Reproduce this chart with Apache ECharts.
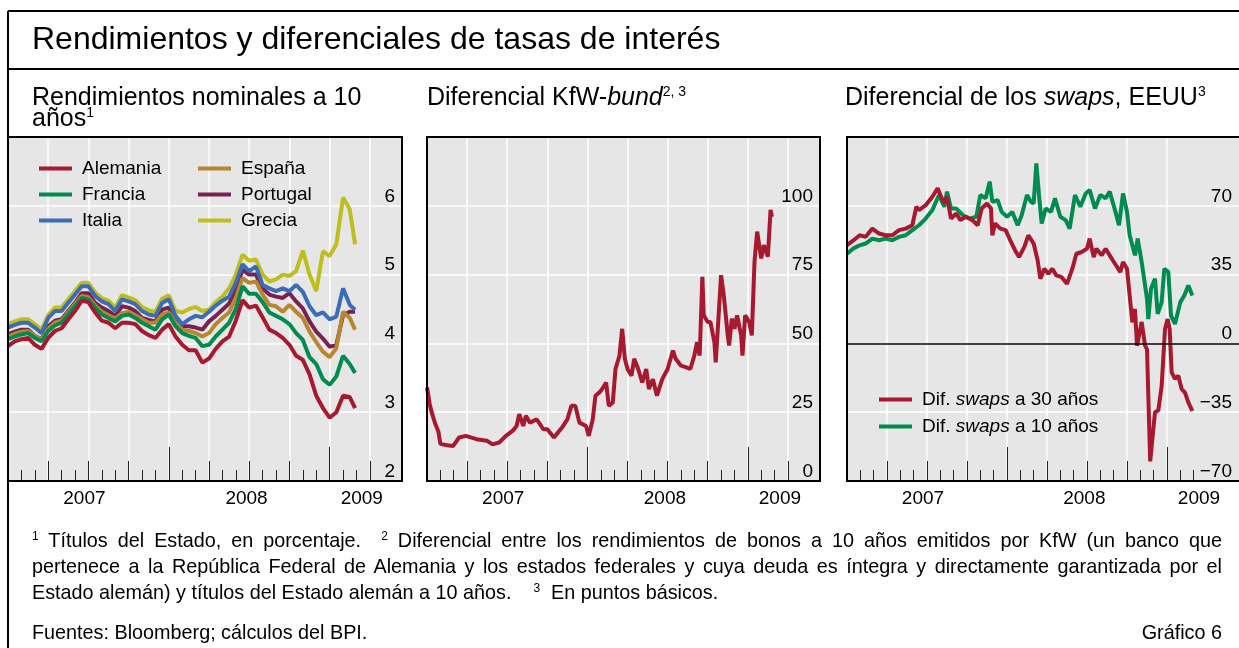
<!DOCTYPE html>
<html>
<head>
<meta charset="utf-8">
<title>Rendimientos y diferenciales de tasas de interés</title>
<script src="https://cdn.jsdelivr.net/npm/echarts@6/dist/echarts.min.js"></script>
<style>
  html, body { margin: 0; padding: 0; background: #fff; }
  #wrap { position: relative; width: 1239px; height: 648px; overflow: hidden; font-family: "Liberation Sans", Arial, sans-serif; color: #000; }
  #chart { position: absolute; left: 0; top: 0; width: 1239px; height: 648px; }
  .notes { position: absolute; left: 32px; width: 1190px; font-size: 19.8px; line-height: 26px; }
  .j { text-align: justify; text-align-last: justify; }
  sup { font-size: 12px; vertical-align: 7px; line-height: 0; }
</style>
</head>
<body>
<div id="wrap">
  <div id="chart"></div>
  <div class="notes" style="top: 527px;">
    <div class="j"><sup>1</sup> Títulos del Estado, en porcentaje.&nbsp;&nbsp;<sup>2</sup> Diferencial entre los rendimientos de bonos a 10 años emitidos por KfW (un banco que</div>
    <div class="j">pertenece a la República Federal de Alemania y los estados federales y cuya deuda es íntegra y directamente garantizada por el</div>
    <div>Estado alemán) y títulos del Estado alemán a 10 años.&nbsp;&nbsp;&nbsp;&nbsp;<sup>3</sup>&nbsp; En puntos básicos.</div>
  </div>
  <div class="notes" style="top: 619px;">Fuentes: Bloomberg; cálculos del BPI.</div>
  <div class="notes" style="top: 619px; text-align: right;">Gráfico 6</div>
</div>

<script>
// meses desde enero de 2007 (0 = 1 ene 2007)
const meses = [0, 0.5, 1, 1.5, 2, 2.5, 3, 3.5, 4, 4.5, 5, 5.5, 6, 6.5, 7, 7.5, 8, 8.5, 9, 9.5,
  10, 10.5, 11, 11.5, 12, 12.5, 13, 13.5, 14, 14.5, 15, 15.5, 16, 16.5, 17, 17.5, 18, 18.5, 19, 19.5,
  20, 20.5, 21, 21.5, 22, 22.5, 23, 23.5, 24, 24.5, 25, 25.5, 25.9];

// rendimientos nominales a 10 años, %
const alemania = [3.96, 4.03, 4.06, 4.08, 3.98, 3.92, 4.08, 4.18, 4.22, 4.35,
  4.47, 4.62, 4.6, 4.45, 4.33, 4.3, 4.22, 4.3, 4.3, 4.28,
  4.18, 4.12, 4.08, 4.2, 4.28, 4.1, 3.98, 3.9, 3.9, 3.72,
  3.78, 3.92, 4.03, 4.1, 4.33, 4.63, 4.52, 4.55, 4.38, 4.2,
  4.15, 4.08, 3.98, 3.82, 3.76, 3.55, 3.24, 3.06, 2.92, 3.0,
  3.24, 3.22, 3.06];
const francia = [4.06, 4.1, 4.13, 4.15, 4.08, 4.03, 4.18, 4.26, 4.3, 4.42,
  4.54, 4.66, 4.64, 4.52, 4.42, 4.37, 4.32, 4.4, 4.42, 4.37,
  4.3, 4.25, 4.2, 4.35, 4.42, 4.25, 4.15, 4.11, 4.08, 3.96,
  3.98, 4.1, 4.2, 4.3, 4.5, 4.83, 4.72, 4.72, 4.6, 4.45,
  4.4, 4.35, 4.28, 4.15, 4.05, 3.8, 3.7, 3.48, 3.4, 3.52,
  3.82, 3.7, 3.57];
const italia = [4.23, 4.27, 4.3, 4.3, 4.23, 4.15, 4.37, 4.47, 4.47, 4.59,
  4.71, 4.83, 4.83, 4.69, 4.61, 4.57, 4.47, 4.64, 4.61, 4.57,
  4.47, 4.42, 4.4, 4.59, 4.64, 4.4, 4.28, 4.35, 4.4, 4.38,
  4.46, 4.55, 4.62, 4.68, 4.88, 5.15, 5.05, 5.12, 4.85, 4.8,
  4.76, 4.8, 4.76, 4.85, 4.75, 4.54, 4.41, 4.45, 4.35, 4.39,
  4.8, 4.56, 4.49];
const espana = [4.1, 4.14, 4.17, 4.18, 4.11, 4.06, 4.21, 4.3, 4.33, 4.45,
  4.57, 4.69, 4.67, 4.55, 4.46, 4.41, 4.36, 4.44, 4.46, 4.41,
  4.35, 4.3, 4.3, 4.42, 4.45, 4.3, 4.2, 4.18, 4.15, 4.1,
  4.15, 4.28, 4.37, 4.45, 4.66, 4.95, 4.88, 4.9, 4.71, 4.56,
  4.54, 4.46, 4.56, 4.46, 4.37, 4.17, 4.02, 3.88, 3.8, 3.93,
  4.46, 4.37, 4.2];
const portugal = [4.13, 4.17, 4.2, 4.2, 4.11, 4.06, 4.25, 4.33, 4.35, 4.47,
  4.59, 4.73, 4.73, 4.59, 4.52, 4.47, 4.4, 4.54, 4.52, 4.47,
  4.37, 4.34, 4.32, 4.49, 4.52, 4.32, 4.25, 4.25, 4.23, 4.2,
  4.32, 4.4, 4.49, 4.58, 4.78, 5.07, 5.0, 5.0, 4.8, 4.71,
  4.68, 4.66, 4.73, 4.61, 4.51, 4.32, 4.17, 4.07, 3.95, 3.98,
  4.41, 4.46, 4.46];
const grecia = [4.28, 4.32, 4.35, 4.35, 4.28, 4.2, 4.41, 4.52, 4.52, 4.64,
  4.76, 4.88, 4.88, 4.74, 4.66, 4.62, 4.52, 4.7, 4.67, 4.63,
  4.53, 4.48, 4.46, 4.65, 4.7, 4.47, 4.45, 4.5, 4.53, 4.47,
  4.49, 4.6, 4.68, 4.8, 5.0, 5.29, 5.2, 5.22, 5.0, 4.9,
  4.93, 5.0, 4.98, 5.05, 5.35, 5.0, 4.76, 5.34, 5.27, 5.44,
  6.12, 5.95, 5.44];

// diferencial KfW-bund, pb: [mes, valor]
const kfwBund = [[0, 34], [0.2, 28], [0.35, 25], [0.6, 21], [0.85, 18], [1, 13.5], [1.5, 13], [1.95, 12.7],
  [2.4, 15.8], [2.9, 16.4], [3.7, 15.2], [4.5, 14.6], [4.9, 13.3], [5.4, 14], [5.9, 16.4], [6.4, 18.2],
  [6.7, 20], [6.9, 24.3], [7.2, 20], [7.4, 23.7], [7.7, 21.2], [8.2, 22.4], [8.4, 21], [8.7, 18.8],
  [9.0, 18.8], [9.5, 15.8], [10.1, 19.4], [10.5, 22.4], [10.8, 27.3], [11.1, 27.3], [11.4, 21.2], [11.9, 20],
  [12.1, 16.4], [12.4, 22.4], [12.6, 31], [12.9, 32.2], [13.1, 33.4], [13.4, 35.8], [13.6, 27.3], [13.9, 28.5],
  [14.1, 40.7], [14.4, 45.6], [14.6, 55.3], [14.8, 44.4], [15, 40.7], [15.3, 38.3], [15.5, 44.4], [15.8, 40.7],
  [16.1, 35.8], [16.4, 40.7], [16.6, 33.4], [16.9, 37], [17.2, 31], [17.6, 37], [18, 40.7], [18.4, 47.4],
  [18.6, 44.4], [19, 41.9], [19.4, 41.3], [19.7, 40.7], [20, 45.6], [20.2, 50.5], [20.4, 45.6], [20.6, 74.2],
  [20.7, 60.2], [21, 57.8], [21.2, 57.8], [21.5, 50.5], [21.6, 43.1], [21.8, 59], [22, 74.8], [22.2, 67.5],
  [22.5, 52.9], [22.6, 49.2], [22.8, 59], [23, 55.3], [23.2, 60.2], [23.5, 52.9], [23.6, 45.6], [23.8, 60.2],
  [24.1, 57.8], [24.3, 52.9], [24.5, 79.6], [24.7, 90.6], [25, 80.9], [25.2, 85.7], [25.5, 81.5], [25.7, 98.5],
  [25.8, 96]];

// diferencial de los swaps, EEUU, pb: [mes, valor]
const swaps30 = [[0, 50], [0.5, 52.5], [0.95, 55], [1.4, 54.2], [1.9, 58.4], [2.4, 55.9], [2.9, 55], [3.4, 55],
  [3.9, 57.6], [4.4, 58.4], [4.9, 60.1], [5.2, 69.5], [5.4, 67.8], [5.9, 70.3], [6.4, 74.6], [6.8, 78.9],
  [7.0, 75.5], [7.3, 71.2], [7.5, 74.6], [7.8, 63.5], [8.2, 66.1], [8.5, 62.7], [8.9, 64.4], [9.4, 62.7],
  [9.8, 60.1], [10.1, 68.6], [10.5, 71.2], [10.8, 68.6], [10.9, 55], [11.1, 61], [11.5, 58.4], [11.9, 57.6],
  [12.3, 51.6], [12.6, 47.4], [12.9, 43.9], [13.3, 49.1], [13.6, 55], [14, 50.8], [14.3, 42.2], [14.5, 32.9],
  [14.8, 38], [15.1, 35.4], [15.4, 38], [15.7, 34.6], [16.1, 33.7], [16.5, 30.3], [16.9, 38], [17.2, 45.6],
  [17.6, 46.5], [18, 48.2], [18.2, 53.3], [18.5, 43.9], [18.7, 48.2], [19.1, 44.8], [19.4, 48.2], [19.7, 44.8],
  [20.1, 40.5], [20.5, 36.3], [20.7, 41.4], [21, 38], [21.2, 24.4], [21.4, 10.7], [21.6, 17.5], [21.75, -1.2],
  [22.1, 10.9], [22.35, -1], [22.5, -3], [22.74, -60], [23.1, -35], [23.35, -34], [23.6, -21.6], [23.85, 7.3],
  [24.05, 12.4], [24.2, 7.3], [24.35, -14.7], [24.6, -18], [24.85, -16.5], [25.1, -23.3], [25.35, -25],
  [25.6, -30], [25.9, -34.4]];
const swaps10 = [[0, 45.6], [0.45, 48.2], [0.95, 49.9], [1.4, 50.8], [1.9, 53.3], [2.4, 52.5], [2.9, 53.3],
  [3.4, 52.5], [3.9, 54.2], [4.4, 55], [4.9, 57.6], [5.4, 60.1], [5.9, 63.5], [6.4, 67.8], [6.9, 75.5],
  [7.3, 69.5], [7.5, 77.2], [7.8, 68.6], [8.2, 68.6], [8.7, 65.2], [9.2, 63.5], [9.7, 64.4], [10.0, 75.5],
  [10.4, 73.8], [10.7, 82.3], [10.9, 72], [11.3, 72.9], [11.6, 66.9], [12, 64.4], [12.4, 66.9], [12.8, 60.1],
  [13.1, 65.2], [13.5, 75.5], [13.8, 72], [14, 71.2], [14.2, 91.6], [14.4, 75.5], [14.6, 61], [14.9, 68.6],
  [15.3, 66.9], [15.6, 73.8], [16, 64.4], [16.4, 62.7], [16.7, 58.4], [17.1, 75.5], [17.5, 69.5], [17.9, 76.3],
  [18.2, 78], [18.6, 68.6], [19, 75.5], [19.4, 73.8], [19.7, 77.2], [20.1, 67.8], [20.4, 60.1], [20.7, 76.3],
  [21, 66.9], [21.2, 55], [21.6, 44.8], [21.8, 53.3], [22.1, 41.4], [22.5, 22.7], [22.6, 12.4], [22.8, 27.8],
  [23.1, 32.9], [23.3, 15], [23.6, 21], [23.8, 38], [24.1, 36.3], [24.3, 14.1], [24.6, 9.9], [25, 21],
  [25.3, 24.4], [25.6, 29.5], [25.9, 24.4]];

// ejes: marcas mensuales, trimestrales y etiquetas de año
const tickMeses = [1, 2, 3, 4, 5, 6, 7, 8, 9, 10, 11, 12, 13, 14, 15, 16, 17, 18, 19, 20, 21, 22, 23, 24, 25, 26, 27];
const tickMesesSwaps = [1, 2, 3, 4, 5, 6, 7, 8, 9, 10, 11, 12, 13, 14, 15, 16, 17, 18, 19, 20, 21, 22, 23, 24, 25, 26];
const tickTrimSwaps = [0, 3, 6, 9, 12, 15, 18, 21, 24];
const posAnios = [5.7, 17.8, 26.4];
const anios = ['2007', '2008', '2009'];

const FONT = '"Liberation Sans", Arial, sans-serif';
const colores = {
  Alemania: '#A6192E', Francia: '#008C50', Italia: '#3A6DB5',
  'España': '#B8862F', Portugal: '#7B2150', Grecia: '#BEBE1E',
  rojo: '#A6192E', verde: '#008C50'
};

const chart = echarts.init(document.getElementById('chart'), null, { renderer: 'canvas' });

const panels = [
  { left: 8, width: 394, yMin: 2, yMax: 7, yInt: 1, meses: tickMeses, trim: null },
  { left: 427, width: 393, yMin: 0, yMax: 125, yInt: 25, meses: tickMeses, trim: null },
  { left: 847, width: 394, yMin: -70, yMax: 105, yInt: 35, meses: tickMesesSwaps, trim: tickTrimSwaps }
];
const TOP = 137, HEIGHT = 344;

const grid = [], xAxis = [], yAxis = [];
panels.forEach((p, g) => {
  grid.push({ left: p.left, top: TOP, width: p.width, height: HEIGHT, show: true,
    backgroundColor: '#E6E6E6', borderWidth: 0 });
  const base = { type: 'value', gridIndex: g, min: 0, max: 29.4, position: 'bottom',
    axisLine: { show: false, onZero: false }, splitLine: { show: false }, axisLabel: { show: false } };
  xAxis.push(Object.assign({}, base, {
    axisTick: { show: true, inside: true, length: 11, customValues: p.meses,
      lineStyle: { color: '#222', width: 1 } },
    axisLabel: { show: true, customValues: posAnios, margin: 8, fontSize: 19, fontFamily: FONT, color: '#000',
      formatter: v => {
        let k = 0;
        posAnios.forEach((q, i) => { if (Math.abs(q - v) < Math.abs(posAnios[k] - v)) k = i; });
        return anios[k];
      } }
  }));
  const trimTick = { show: true, inside: true, length: 20, lineStyle: { color: '#222', width: 1 } };
  if (p.trim) trimTick.customValues = p.trim;
  xAxis.push(Object.assign({}, base, {
    interval: 3,
    axisTick: trimTick,
    splitLine: { show: true, lineStyle: { color: '#fff', width: 1.5 } }
  }));
  xAxis.push(Object.assign({}, base, {
    interval: 12,
    axisTick: { show: true, inside: true, length: 34, lineStyle: { color: '#222', width: 1 } }
  }));
  yAxis.push({ type: 'value', gridIndex: g, position: 'right', min: p.yMin, max: p.yMax, interval: p.yInt,
    axisLine: { show: false }, axisTick: { show: false },
    splitLine: { show: true, lineStyle: { color: '#fff', width: 1.5 } },
    axisLabel: { inside: true, margin: 7, fontSize: 19, fontFamily: FONT, color: '#000',
      verticalAlign: 'bottom', showMaxLabel: false,
      formatter: v => String(v).replace('-', '\u2212') } });
});

function linea(name, data, g, color) {
  return { name, type: 'line', xAxisIndex: g * 3, yAxisIndex: g, data, showSymbol: false,
    symbol: 'none', color, lineStyle: { width: 4, color }, emphasis: { disabled: true } };
}
const conMeses = arr => meses.map((m, i) => [m, arr[i]]);

const series = [
  linea('Grecia', conMeses(grecia), 0, colores.Grecia),
  linea('Portugal', conMeses(portugal), 0, colores.Portugal),
  linea('España', conMeses(espana), 0, colores['España']),
  linea('Italia', conMeses(italia), 0, colores.Italia),
  linea('Francia', conMeses(francia), 0, colores.Francia),
  linea('Alemania', conMeses(alemania), 0, colores.Alemania),
  linea('KfW-bund', kfwBund, 1, colores.rojo),
  Object.assign(linea('Dif. swaps a 10 años', swaps10, 2, colores.verde), {
    markLine: { silent: true, symbol: 'none', label: { show: false },
      lineStyle: { color: '#000', width: 1.5, type: 'solid' }, data: [{ yAxis: 0 }] }
  }),
  linea('Dif. swaps a 30 años', swaps30, 2, colores.rojo)
];

const legendBase = { orient: 'vertical', padding: 0, icon: 'rect', itemWidth: 33, itemHeight: 4, itemGap: 5,
  selectedMode: false, textStyle: { fontSize: 19, fontFamily: FONT, color: '#000', lineHeight: 21, padding: [0, 0, 0, 5] } };
const legend = [
  Object.assign({}, legendBase, { left: 39, top: 158, data: ['Alemania', 'Francia', 'Italia'] }),
  Object.assign({}, legendBase, { left: 198, top: 158, data: ['España', 'Portugal', 'Grecia'] }),
  Object.assign({}, legendBase, { left: 879, top: 389, itemGap: 6, data: ['Dif. swaps a 30 años', 'Dif. swaps a 10 años'],
    formatter: n => n.replace('swaps', '{i|swaps}'),
    textStyle: Object.assign({}, legendBase.textStyle, {
      rich: { i: { fontStyle: 'italic', fontSize: 19, fontFamily: FONT, color: '#000', lineHeight: 21 } } }) })
];

const rich = {
  t: { fontSize: 25, fontFamily: FONT, lineHeight: 26 },
  it: { fontSize: 25, fontFamily: FONT, fontStyle: 'italic', lineHeight: 26 },
  s: { fontSize: 14, fontFamily: FONT, verticalAlign: 'top', lineHeight: 14 }
};
function texto(x, y, text, extra) {
  return { type: 'text', x, y, silent: true, z: 50,
    style: Object.assign({ text, fill: '#000', font: '25px ' + FONT, verticalAlign: 'middle', rich }, extra || {}) };
}
function marco(p) {
  return { type: 'rect', silent: true, z: 60,
    shape: { x: p.left, y: TOP, width: p.width, height: HEIGHT },
    style: { fill: 'none', stroke: '#000', lineWidth: 2 } };
}
function raya(x1, y1, x2, y2) {
  return { type: 'line', silent: true, z: 60, shape: { x1, y1, x2, y2 }, style: { stroke: '#000', lineWidth: 2 } };
}

const graphic = [
  raya(8, 11, 1239, 11),
  raya(8, 11, 8, 648),
  raya(8, 69, 1239, 69),
  texto(32, 40.5, 'Rendimientos y diferenciales de tasas de interés', { font: '32px ' + FONT, rich: null }),
  texto(32, 98, '{t|Rendimientos nominales a 10}'),
  texto(32, 119.5, '{t|años}{s|1}'),
  texto(427, 98, '{t|Diferencial KfW-}{it|bund}{s|2, 3}'),
  texto(845, 98, '{t|Diferencial de los }{it|swaps}{t|, EEUU}{s|3}'),
  marco(panels[0]), marco(panels[1]), marco(panels[2])
];

chart.setOption({
  animation: false,
  textStyle: { fontFamily: FONT },
  grid, xAxis, yAxis, series, legend, graphic
});
</script>
</body>
</html>
